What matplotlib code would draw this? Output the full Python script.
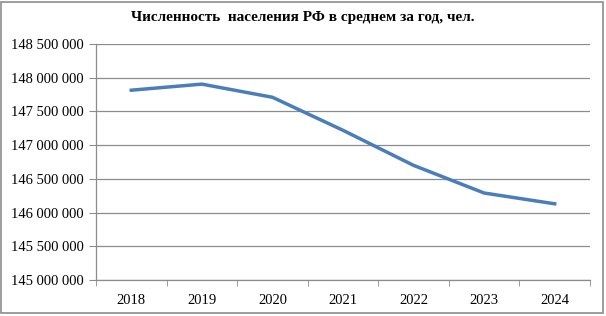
import matplotlib
matplotlib.use("Agg")
import matplotlib.pyplot as plt
from matplotlib.ticker import FuncFormatter, FixedLocator, NullFormatter
from matplotlib.patches import Rectangle

years = ["2018", "2019", "2020", "2021", "2022", "2023", "2024"]
population = [147_815_000, 147_905_000, 147_710_000, 147_220_000, 146_700_000, 146_290_000, 146_130_000]
title = "Численность  населения РФ в среднем за год, чел."

plt.rcParams['font.family'] = ['Liberation Serif', 'DejaVu Serif']

fig = plt.figure(figsize=(6.06, 3.16), dpi=100)
ax = fig.add_axes([96/606, 1-280/316, (590-96)/606, (280-44)/316])

x = list(range(len(years)))
ax.plot(x, population, color="#4A7EBB", linewidth=2.5, solid_joinstyle="round")

ax.set_ylim(145_000_000, 148_500_000)
ax.set_yticks([145_000_000 + i*500_000 for i in range(8)])
ax.yaxis.set_major_formatter(FuncFormatter(lambda v, p: f"{int(v):,}".replace(",", " ")))
ax.grid(axis="y", color="#8c8c8c", linewidth=0.9)
ax.set_axisbelow(True)

ax.set_xlim(-0.5, len(years)-0.5)
ax.set_xticks(x)
ax.set_xticklabels(years)
ax.xaxis.set_minor_locator(FixedLocator([i-0.5 for i in range(len(years)+1)]))
ax.tick_params(axis="x", which="major", length=0, pad=10, labelsize=10.5)
ax.tick_params(axis="x", which="minor", length=4, color="#8c8c8c")
ax.tick_params(axis="y", length=5, color="#8c8c8c", labelsize=10.5, pad=4)

for s in ["top", "right"]:
    ax.spines[s].set_visible(False)
for s in ["left", "bottom"]:
    ax.spines[s].set_color("#8c8c8c")
    ax.spines[s].set_linewidth(0.9)

fig.text(0.5, 1-18/316, title, ha="center", va="center", fontsize=11, fontweight="bold")
fig.patches.append(Rectangle((1/606, 1-313/316), 602/606, 311/316, transform=fig.transFigure,
                             fill=False, edgecolor="#8c8c8c", linewidth=1.2))

fig.savefig("out.png", dpi=100)
